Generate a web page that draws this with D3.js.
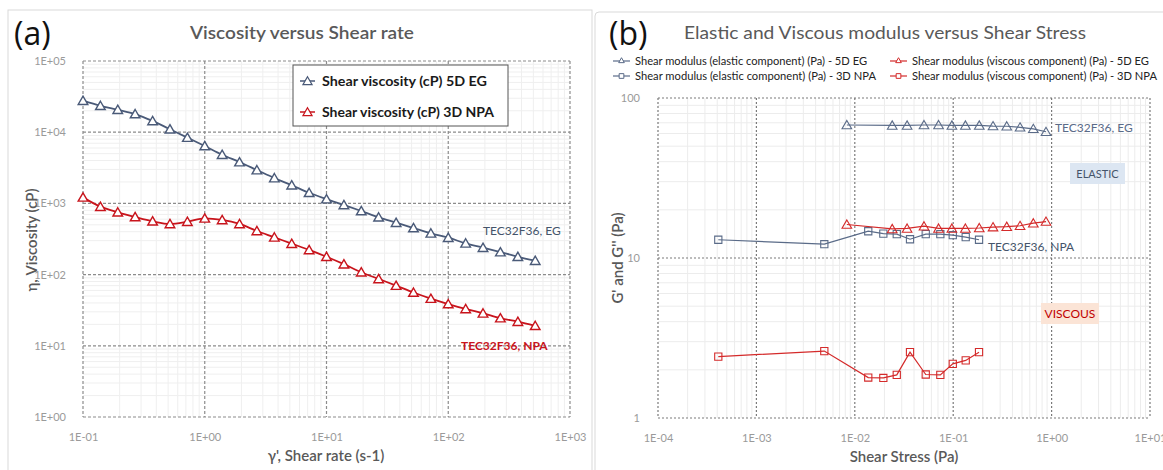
<!DOCTYPE html>
<html>
<head>
<meta charset="utf-8">
<script src="https://cdn.jsdelivr.net/npm/d3@7"></script>
<style>
  body { margin: 0; background: #fff; }
  svg { display: block; font-family: Lato, "Open Sans", sans-serif; }
</style>
</head>
<body>
<script>
// ---- panel (a) data: viscosity vs shear rate ----
var shearRate = [0.1, 0.139, 0.193, 0.268, 0.373, 0.518, 0.72, 1.0, 1.39, 1.93, 2.68, 3.73, 5.18, 7.2,
    10, 13.9, 19.3, 26.8, 37.3, 51.8, 72, 100, 139, 193, 268, 373, 518];
var viscosityEG = [27700, 23500, 20700, 18000, 14400, 11000, 8400, 6400, 4830, 3800, 2940, 2270, 1800, 1410,
    1150, 950, 782, 638, 536, 451, 380, 330, 275, 239, 207, 178, 157];
var viscosityNPA = [1216, 900, 750, 644, 561, 514, 553, 617, 585, 514, 410, 334, 272, 222,
    178, 140, 108, 87, 70, 56, 46, 38.6, 32.9, 28.6, 24.5, 21.8, 19.1];
var xTicksA = [0.1, 1, 10, 100, 1000];
var yTicksA = [1, 10, 100, 1000, 10000, 100000];

// ---- panel (b) data: G' and G'' vs shear stress ----
var stressEG = [0.0083, 0.024, 0.034, 0.0505, 0.071, 0.097, 0.133, 0.184, 0.254, 0.35, 0.478, 0.652, 0.877];
var elasticEG = [67.8, 67.4, 67.4, 67.8, 67.8, 67.4, 67.4, 67.4, 66.8, 66.6, 65.6, 64.2, 61.5];
var viscousEG = [16.2, 15.2, 15.3, 15.8, 15.3, 15.3, 15.3, 15.4, 15.6, 15.7, 15.9, 16.5, 16.9];
var stressNPA = [0.00041, 0.0049, 0.0137, 0.0195, 0.0267, 0.0364, 0.0526, 0.074, 0.099, 0.134, 0.183];
var elasticNPA = [13.0, 12.2, 14.7, 14.2, 14.1, 13.1, 14.1, 14.1, 13.9, 13.5, 13.0];
var viscousNPA = [2.42, 2.62, 1.79, 1.78, 1.86, 2.58, 1.87, 1.86, 2.18, 2.29, 2.58];
var xTicksB = [0.0001, 0.001, 0.01, 0.1, 1, 10];
var yTicksB = [1, 10, 100];

var legendA = ["Shear viscosity (cP) 5D EG", "Shear viscosity (cP) 3D NPA"];
var legendB = ["Shear modulus (elastic component) (Pa) - 5D EG",
    "Shear modulus (elastic component) (Pa) - 3D NPA",
    "Shear modulus (viscous component) (Pa) - 5D EG",
    "Shear modulus (viscous component) (Pa) - 3D NPA"];

var blue = "#4a5a78", red = "#c8141c";

var svg = d3.select("body").append("svg")
    .attr("width", 1163)
    .attr("height", 470);

// panel frames
svg.append("rect").attr("x", 8).attr("y", 10).attr("width", 584).attr("height", 470)
    .attr("fill", "none").attr("stroke", "#d9d9d9");
svg.append("rect").attr("x", 595).attr("y", 12).attr("width", 580).attr("height", 470).attr("rx", 4)
    .attr("fill", "none").attr("stroke", "#d9d9d9");

function expFormat(d) {
    var e = Math.round(Math.log10(d));
    return "1E" + (e < 0 ? "-" : "+") + (Math.abs(e) < 10 ? "0" : "") + Math.abs(e);
}

function minorValues(lo, hi) {
    var out = [];
    for (var e = Math.round(Math.log10(lo)); e < Math.round(Math.log10(hi)); e++) {
        for (var k = 2; k < 10; k++) out.push(k * Math.pow(10, e));
    }
    return out;
}

function drawGrid(g, x, y, w, h, xt, yt, minorColor, majorColor, dash) {
    var xd = x.domain(), yd = y.domain();
    g.selectAll(".minx").data(minorValues(xd[0], xd[1])).enter().append("line")
        .attr("x1", d => x(d)).attr("x2", d => x(d)).attr("y1", 0).attr("y2", h)
        .attr("stroke", minorColor).attr("stroke-width", 1);
    g.selectAll(".miny").data(minorValues(yd[0], yd[1])).enter().append("line")
        .attr("y1", d => y(d)).attr("y2", d => y(d)).attr("x1", 0).attr("x2", w)
        .attr("stroke", minorColor).attr("stroke-width", 1);
    g.selectAll(".majx").data(xt).enter().append("line")
        .attr("x1", d => x(d)).attr("x2", d => x(d)).attr("y1", 0).attr("y2", h)
        .attr("stroke", majorColor).attr("stroke-width", 1.2).attr("stroke-dasharray", dash);
    g.selectAll(".majy").data(yt).enter().append("line")
        .attr("y1", d => y(d)).attr("y2", d => y(d)).attr("x1", 0).attr("x2", w)
        .attr("stroke", majorColor).attr("stroke-width", 1.2).attr("stroke-dasharray", dash);
}

function styleAxis(sel) {
    sel.select(".domain").remove();
    sel.selectAll(".tick line").remove();
    sel.selectAll(".tick text").attr("fill", "#9a9a9a").style("font-size", "11px")
        .style("font-family", "Lato, sans-serif");
}

var tri = d3.symbol().type(d3.symbolTriangle);
var sq = d3.symbol().type(d3.symbolSquare);

// ================= panel (a) =================
var wA = 487, hA = 356;
var xA = d3.scaleLog().domain([0.1, 1000]).range([0, wA]);
var yA = d3.scaleLog().domain([1, 100000]).range([hA, 0]);
var gA = svg.append("g").attr("transform", "translate(83,61)");

drawGrid(gA, xA, yA, wA, hA, xTicksA, yTicksA, "#efefef", "#8c8c8c", "3,2");

gA.append("g").attr("transform", "translate(0," + hA + ")")
    .call(d3.axisBottom(xA).tickValues(xTicksA).tickFormat(expFormat).tickPadding(10))
    .call(styleAxis);
gA.append("g")
    .call(d3.axisLeft(yA).tickValues(yTicksA).tickFormat(expFormat).tickPadding(11))
    .call(styleAxis);

var lineA = d3.line().curve(d3.curveMonotoneX);

[[viscosityEG, blue], [viscosityNPA, red]].forEach(function (s) {
    var pts = shearRate.map(function (d, i) { return [xA(d), yA(s[0][i])]; });
    gA.append("path").attr("d", lineA(pts)).attr("fill", "none")
        .attr("stroke", s[1]).attr("stroke-width", 1.8);
    gA.selectAll(null).data(pts).enter().append("path")
        .attr("d", tri.size(40)())
        .attr("transform", d => "translate(" + d[0] + "," + (d[1] + 1) + ")")
        .attr("fill", "#fff").attr("stroke", s[1]).attr("stroke-width", 1.4);
});

gA.append("text").attr("x", 400).attr("y", 174).attr("fill", "#44546a")
    .style("font-size", "12px").text("TEC32F36, EG");
gA.append("text").attr("x", 378).attr("y", 289).attr("fill", red)
    .style("font-size", "12px").style("font-weight", "bold").text("TEC32F36, NPA");

// legend (a)
var legA = svg.append("g").attr("transform", "translate(293,65)");
legA.append("rect").attr("width", 215).attr("height", 61)
    .attr("fill", "#fff").attr("stroke", "#555").attr("stroke-width", 1);
legendA.forEach(function (t, i) {
    var c = i === 0 ? blue : red;
    var cy = 16 + i * 31;
    legA.append("line").attr("x1", 7).attr("x2", 22).attr("y1", cy).attr("y2", cy)
        .attr("stroke", c).attr("stroke-width", 1.5);
    legA.append("path").attr("d", tri.size(36)()).attr("transform", "translate(14.5," + (cy + 1) + ")")
        .attr("fill", "#fff").attr("stroke", c).attr("stroke-width", 1.2);
    legA.append("text").attr("x", 29).attr("y", cy + 5).attr("fill", "#1a1a1a")
        .style("font-size", "14px").style("font-weight", "bold")
        .attr("textLength", i === 0 ? 165 : 172).attr("lengthAdjust", "spacingAndGlyphs").text(t);
});

// titles (a)
svg.append("text").attr("x", 14).attr("y", 45).style("font-size", "32px")
    .style("font-family", "'Open Sans', sans-serif").attr("fill", "#111").text("(a)");
svg.append("text").attr("x", 302).attr("y", 39).attr("text-anchor", "middle")
    .attr("fill", "#595959").style("font-size", "17px").style("font-weight", "600")
    .attr("textLength", 224).attr("lengthAdjust", "spacingAndGlyphs").text("Viscosity versus Shear rate");
svg.append("text").attr("x", 326).attr("y", 461).attr("text-anchor", "middle")
    .attr("fill", "#595959").style("font-size", "15px").style("font-weight", "600")
    .text("γ', Shear rate (s-1)");
svg.append("text").attr("transform", "translate(37,240) rotate(-90)").attr("text-anchor", "middle")
    .attr("fill", "#595959").style("font-size", "15px").style("font-weight", "600")
    .text("η, Viscosity (cP)");

// ================= panel (b) =================
var wB = 492, hB = 320;
var xB = d3.scaleLog().domain([0.0001, 10]).range([0, wB]);
var yB = d3.scaleLog().domain([1, 100]).range([hB, 0]);
var gB = svg.append("g").attr("transform", "translate(658,98)");

drawGrid(gB, xB, yB, wB, hB, xTicksB, yTicksB, "#ececec", "#7a7a7a", "2,2");

gB.append("g").attr("transform", "translate(0," + hB + ")")
    .call(d3.axisBottom(xB).tickValues(xTicksB).tickFormat(expFormat).tickPadding(10))
    .call(styleAxis);
gB.append("g")
    .call(d3.axisLeft(yB).tickValues(yTicksB).tickFormat(d3.format("d")).tickPadding(12))
    .call(styleAxis);

var seriesB = [
    { xs: stressEG, ys: elasticEG, color: "#5a6b88", shape: tri },
    { xs: stressNPA, ys: elasticNPA, color: "#5a6b88", shape: sq },
    { xs: stressEG, ys: viscousEG, color: "#d42a2a", shape: tri },
    { xs: stressNPA, ys: viscousNPA, color: "#d42a2a", shape: sq }
];
var lineB = d3.line();
seriesB.forEach(function (s) {
    var pts = s.xs.map(function (d, i) { return [xB(d), yB(s.ys[i])]; });
    gB.append("path").attr("d", lineB(pts)).attr("fill", "none")
        .attr("stroke", s.color).attr("stroke-width", 1.2);
    gB.selectAll(null).data(pts).enter().append("path")
        .attr("d", s.shape === tri ? tri.size(40)() : sq.size(52)())
        .attr("transform", d => "translate(" + d[0] + "," + (s.shape === tri ? d[1] + 1 : d[1]) + ")")
        .attr("fill", "none").attr("stroke", s.color).attr("stroke-width", 1.1);
});

gB.append("text").attr("x", 397).attr("y", 34).attr("fill", "#5a6b88")
    .style("font-size", "12px").text("TEC32F36, EG");
gB.append("text").attr("x", 330).attr("y", 153).attr("fill", "#44546a")
    .style("font-size", "12px").text("TEC32F36, NPA");

// annotation boxes
gB.append("rect").attr("x", 412).attr("y", 65).attr("width", 55).attr("height", 21).attr("fill", "#dce6f2");
gB.append("text").attr("x", 439.5).attr("y", 80).attr("text-anchor", "middle").attr("fill", "#44546a")
    .style("font-size", "11px").text("ELASTIC");
gB.append("rect").attr("x", 383).attr("y", 205).attr("width", 58).attr("height", 21).attr("fill", "#fbe4d6");
gB.append("text").attr("x", 412).attr("y", 220).attr("text-anchor", "middle").attr("fill", "#c00000")
    .style("font-size", "12px").text("VISCOUS");

// legend (b)
var legPos = [[613, 61], [613, 76], [890, 61], [890, 76]];
var legLen = [232, 241, 237, 245];
legendB.forEach(function (t, i) {
    var s = seriesB[i];
    var lx = legPos[i][0], ly = legPos[i][1];
    svg.append("line").attr("x1", lx).attr("x2", lx + 17).attr("y1", ly).attr("y2", ly)
        .attr("stroke", s.color).attr("stroke-width", 1.2);
    svg.append("path").attr("d", s.shape === tri ? tri.size(14)() : sq.size(22)())
        .attr("transform", "translate(" + (lx + 8.5) + "," + ly + ")")
        .attr("fill", "#fff").attr("stroke", s.color).attr("stroke-width", 1);
    svg.append("text").attr("x", lx + 22).attr("y", ly + 4).attr("fill", "#222")
        .style("font-size", "12px").attr("textLength", legLen[i]).attr("lengthAdjust", "spacingAndGlyphs")
        .text(t);
});

// titles (b)
svg.append("text").attr("x", 609).attr("y", 45).style("font-size", "32px")
    .style("font-family", "'Open Sans', sans-serif").attr("fill", "#111").text("(b)");
svg.append("text").attr("x", 885).attr("y", 39).attr("text-anchor", "middle")
    .attr("fill", "#595959").style("font-size", "17px")
    .attr("textLength", 402).attr("lengthAdjust", "spacingAndGlyphs")
    .text("Elastic and Viscous modulus versus Shear Stress");
svg.append("text").attr("x", 904).attr("y", 462).attr("text-anchor", "middle")
    .attr("fill", "#595959").style("font-size", "15px").style("font-weight", "600")
    .text("Shear Stress (Pa)");
svg.append("text").attr("transform", "translate(623,258) rotate(-90)").attr("text-anchor", "middle")
    .attr("fill", "#595959").style("font-size", "15px").style("font-weight", "600")
    .text("G' and G'' (Pa)");
</script>
</body>
</html>
